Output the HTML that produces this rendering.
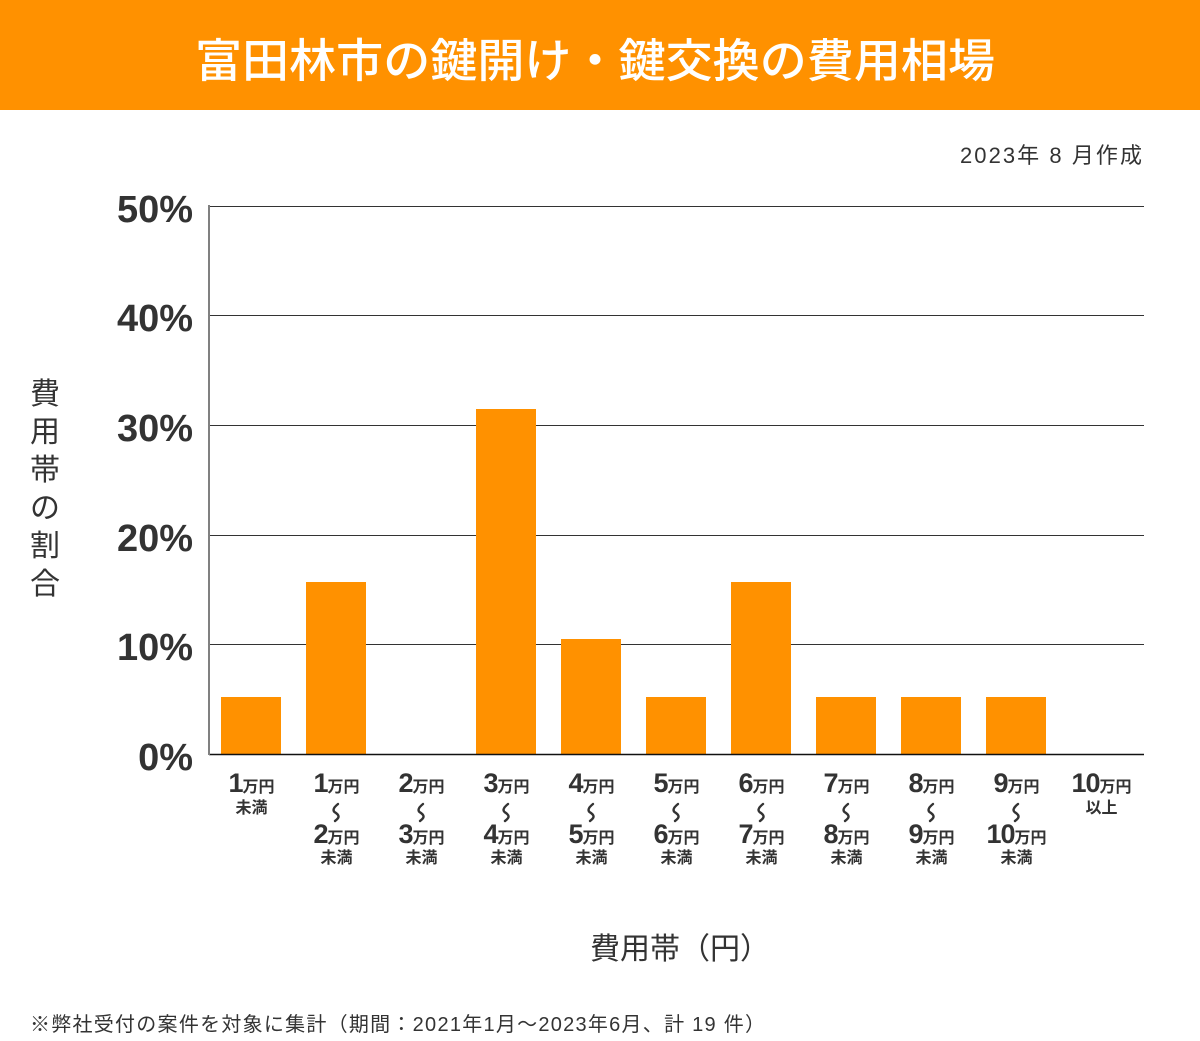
<!DOCTYPE html>
<html lang="ja">
<head>
<meta charset="utf-8">
<style>
  html, body { margin: 0; padding: 0; background: #fff; }
  body { width: 1200px; height: 1041px; overflow: hidden; }
  svg { display: block; }
</style>
</head>
<body>
<svg width="1200" height="1041" viewBox="0 0 1200 1041" xmlns="http://www.w3.org/2000/svg">
  <rect x="0" y="0" width="1200" height="110" fill="#FF9100"/>
  <text x="195" y="77" textLength="800" lengthAdjust="spacingAndGlyphs" font-family="Liberation Sans, Noto Sans CJK JP, sans-serif" font-size="46" font-weight="500" fill="#fff">富田林市の鍵開け・鍵交換の費用相場</text>

  <text x="960" y="163" textLength="182" lengthAdjust="spacing" font-family="Liberation Sans, Noto Sans CJK JP, sans-serif" font-size="22" fill="#333">2023年 8 月作成</text>

  <g stroke="#333" stroke-width="1">
    <line x1="209" y1="206.5" x2="1144" y2="206.5"/>
    <line x1="209" y1="315.5" x2="1144" y2="315.5"/>
    <line x1="209" y1="425.5" x2="1144" y2="425.5"/>
    <line x1="209" y1="535.5" x2="1144" y2="535.5"/>
    <line x1="209" y1="644.5" x2="1144" y2="644.5"/>
  </g>

  <g fill="#FF9100">
    <rect x="221" y="697" width="60" height="57"/>
    <rect x="306" y="582" width="60" height="172"/>
    <rect x="476" y="409" width="60" height="345"/>
    <rect x="561" y="639" width="60" height="115"/>
    <rect x="646" y="697" width="60" height="57"/>
    <rect x="731" y="582" width="60" height="172"/>
    <rect x="816" y="697" width="60" height="57"/>
    <rect x="901" y="697" width="60" height="57"/>
    <rect x="986" y="697" width="60" height="57"/>
  </g>

  <line x1="209" y1="754.5" x2="1144" y2="754.5" stroke="#111" stroke-width="1.5"/>
  <line x1="209" y1="205" x2="209" y2="755" stroke="#808080" stroke-width="2"/>

  <g font-family="Liberation Sans, sans-serif" font-weight="bold" font-size="38" fill="#333" text-anchor="end">
    <text x="193" y="222">50%</text>
    <text x="193" y="331">40%</text>
    <text x="193" y="441">30%</text>
    <text x="193" y="551">20%</text>
    <text x="193" y="660">10%</text>
    <text x="193" y="770">0%</text>
  </g>

  <g font-family="Liberation Sans, Noto Sans CJK JP, sans-serif" font-size="30" fill="#333" text-anchor="middle">
    <text x="45" y="404">費</text>
    <text x="45" y="442">用</text>
    <text x="45" y="480">帯</text>
    <text x="45" y="518">の</text>
    <text x="45" y="556">割</text>
    <text x="45" y="594">合</text>
  </g>

  <g font-family="Liberation Sans, Noto Sans CJK JP, sans-serif" font-weight="bold" fill="#333" text-anchor="middle">
    <text x="251.5" y="792"><tspan font-size="27" letter-spacing="-1">1</tspan><tspan font-size="16">万円</tspan></text>
    <text x="251.5" y="813" font-size="16">未満</text>

    <text x="336.5" y="792"><tspan font-size="27" letter-spacing="-1">1</tspan><tspan font-size="16">万円</tspan></text>
    <text x="336.5" y="843"><tspan font-size="27" letter-spacing="-1">2</tspan><tspan font-size="16">万円</tspan></text>
    <text x="336.5" y="863" font-size="16">未満</text>

    <text x="421.5" y="792"><tspan font-size="27" letter-spacing="-1">2</tspan><tspan font-size="16">万円</tspan></text>
    <text x="421.5" y="843"><tspan font-size="27" letter-spacing="-1">3</tspan><tspan font-size="16">万円</tspan></text>
    <text x="421.5" y="863" font-size="16">未満</text>

    <text x="506.5" y="792"><tspan font-size="27" letter-spacing="-1">3</tspan><tspan font-size="16">万円</tspan></text>
    <text x="506.5" y="843"><tspan font-size="27" letter-spacing="-1">4</tspan><tspan font-size="16">万円</tspan></text>
    <text x="506.5" y="863" font-size="16">未満</text>

    <text x="591.5" y="792"><tspan font-size="27" letter-spacing="-1">4</tspan><tspan font-size="16">万円</tspan></text>
    <text x="591.5" y="843"><tspan font-size="27" letter-spacing="-1">5</tspan><tspan font-size="16">万円</tspan></text>
    <text x="591.5" y="863" font-size="16">未満</text>

    <text x="676.5" y="792"><tspan font-size="27" letter-spacing="-1">5</tspan><tspan font-size="16">万円</tspan></text>
    <text x="676.5" y="843"><tspan font-size="27" letter-spacing="-1">6</tspan><tspan font-size="16">万円</tspan></text>
    <text x="676.5" y="863" font-size="16">未満</text>

    <text x="761.5" y="792"><tspan font-size="27" letter-spacing="-1">6</tspan><tspan font-size="16">万円</tspan></text>
    <text x="761.5" y="843"><tspan font-size="27" letter-spacing="-1">7</tspan><tspan font-size="16">万円</tspan></text>
    <text x="761.5" y="863" font-size="16">未満</text>

    <text x="846.5" y="792"><tspan font-size="27" letter-spacing="-1">7</tspan><tspan font-size="16">万円</tspan></text>
    <text x="846.5" y="843"><tspan font-size="27" letter-spacing="-1">8</tspan><tspan font-size="16">万円</tspan></text>
    <text x="846.5" y="863" font-size="16">未満</text>

    <text x="931.5" y="792"><tspan font-size="27" letter-spacing="-1">8</tspan><tspan font-size="16">万円</tspan></text>
    <text x="931.5" y="843"><tspan font-size="27" letter-spacing="-1">9</tspan><tspan font-size="16">万円</tspan></text>
    <text x="931.5" y="863" font-size="16">未満</text>

    <text x="1016.5" y="792"><tspan font-size="27" letter-spacing="-1">9</tspan><tspan font-size="16">万円</tspan></text>
    <text x="1016.5" y="843"><tspan font-size="27" letter-spacing="-1">10</tspan><tspan font-size="16">万円</tspan></text>
    <text x="1016.5" y="863" font-size="16">未満</text>

    <text x="1101.5" y="792"><tspan font-size="27" letter-spacing="-1">10</tspan><tspan font-size="16">万円</tspan></text>
    <text x="1101.5" y="813" font-size="16">以上</text>
  </g>

  <g stroke="#333" stroke-width="2.4" fill="none" stroke-linecap="round">
    <path d="M 338 804 C 333 808, 332 811, 336 813 C 340 816, 339 818, 335 821"/>
    <path d="M 423 804 C 418 808, 417 811, 421 813 C 425 816, 424 818, 420 821"/>
    <path d="M 508 804 C 503 808, 502 811, 506 813 C 510 816, 509 818, 505 821"/>
    <path d="M 593 804 C 588 808, 587 811, 591 813 C 595 816, 594 818, 590 821"/>
    <path d="M 678 804 C 673 808, 672 811, 676 813 C 680 816, 679 818, 675 821"/>
    <path d="M 763 804 C 758 808, 757 811, 761 813 C 765 816, 764 818, 760 821"/>
    <path d="M 848 804 C 843 808, 842 811, 846 813 C 850 816, 849 818, 845 821"/>
    <path d="M 933 804 C 928 808, 927 811, 931 813 C 935 816, 934 818, 930 821"/>
    <path d="M 1018 804 C 1013 808, 1012 811, 1016 813 C 1020 816, 1019 818, 1015 821"/>
  </g>

  <text x="590" y="959" textLength="180" lengthAdjust="spacing" font-family="Liberation Sans, Noto Sans CJK JP, sans-serif" font-size="30" fill="#333">費用帯（円）</text>

  <text x="30" y="1031" textLength="735" lengthAdjust="spacing" font-family="Liberation Sans, Noto Sans CJK JP, sans-serif" font-size="20" fill="#333">※弊社受付の案件を対象に集計（期間：2021年1月～2023年6月、計 19 件）</text>
</svg>
</body>
</html>
